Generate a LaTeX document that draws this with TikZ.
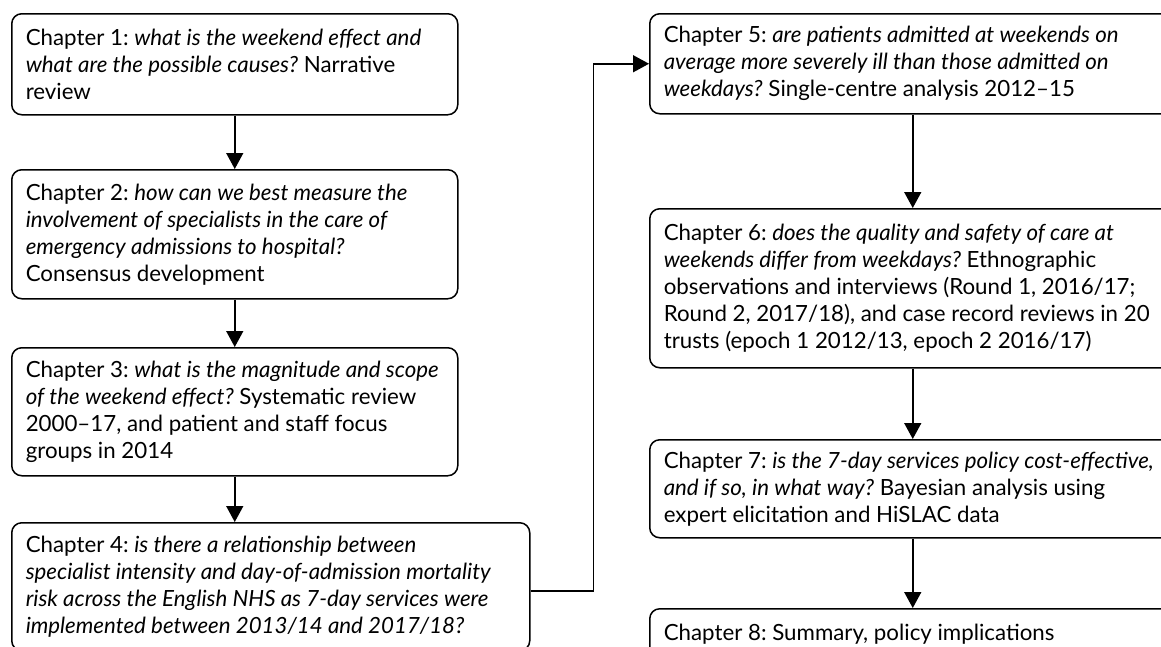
\documentclass[tikz,border=0pt]{standalone}
\usepackage{fontspec}
\setmainfont{Lato}
\usetikzlibrary{arrows.meta}
\begin{document}
\begin{tikzpicture}[x=1pt,y=-1pt,
  box/.style={draw, line width=1.5pt, rounded corners=10pt, anchor=north west,
    align=flush left, inner xsep=14pt, inner ysep=6pt,
    font=\fontsize{22.3}{27}\selectfont\frenchspacing},
  lbox/.style={box, minimum width=446pt, text width=418pt},
  rbox/.style={box, minimum width=526pt, text width=498pt},
  arr/.style={line width=1.5pt, -{Triangle[length=16pt,width=17pt]}}]
\useasboundingbox (0,0) rectangle (1161,646);
\clip (0,0) rectangle (1161,646);
\node[lbox, minimum height=101pt] (c1) at (11,13)
  {Chapter 1: \textit{what is the weekend effect and}\\
   \textit{what are the possible causes?} Narrative\\
   review};
\node[lbox, minimum height=129pt] (c2) at (11,169)
  {Chapter 2: \textit{how can we best measure the}\\
   \textit{involvement of specialists in the care of}\\
   \textit{emergency admissions to hospital?}\\
   Consensus development};
\node[lbox, minimum height=128pt] (c3) at (11,347)
  {Chapter 3: \textit{what is the magnitude and scope}\\
   \textit{of the weekend effect?} Systematic review\\
   2000–17, and patient and staff focus\\
   groups in 2014};
\node[box, minimum width=518pt, text width=490pt, minimum height=128pt] (c4) at (11,522)
  {Chapter 4: \textit{is there a relationship between}\\
   \textit{specialist intensity and day-of-admission mortality}\\
   \textit{risk across the English NHS as 7-day services were}\\
   \textit{implemented between 2013/14 and 2017/18?}};
\node[rbox, minimum height=100pt] (c5) at (649,13)
  {Chapter 5: \textit{are patients admitted at weekends on}\\
   \textit{average more severely ill than those admitted on}\\
   \textit{weekdays?} Single-centre analysis 2012–15};
\node[rbox, minimum height=159pt] (c6) at (649,208)
  {Chapter 6: \textit{does the quality and safety of care at}\\
   \textit{weekends differ from weekdays?} Ethnographic\\
   observations and interviews (Round 1, 2016/17;\\
   Round 2, 2017/18), and case record reviews in 20\\
   trusts (epoch 1 2012/13, epoch 2 2016/17)};
\node[rbox, minimum height=98pt] (c7) at (649,439)
  {Chapter 7: \textit{is the 7-day services policy cost-effective,}\\
   \textit{and if so, in what way?} Bayesian analysis using\\
   expert elicitation and HiSLAC data};
\node[rbox, minimum height=50pt] (c8) at (649,608)
  {Chapter 8: Summary, policy implications};
\draw[arr] (c1.south) -- (c2.north);
\draw[arr] (c2.south) -- (c3.north);
\draw[arr] (c3.south) -- (c3.south |- c4.north);
\draw[arr] ([yshift=-4pt]c4.east) -- ++(63,0) |- (c5.west);
\draw[arr] (c5.south) -- (c6.north);
\draw[arr] (c6.south) -- (c7.north);
\draw[arr] (c7.south) -- (c8.north);
\end{tikzpicture}
\end{document}
